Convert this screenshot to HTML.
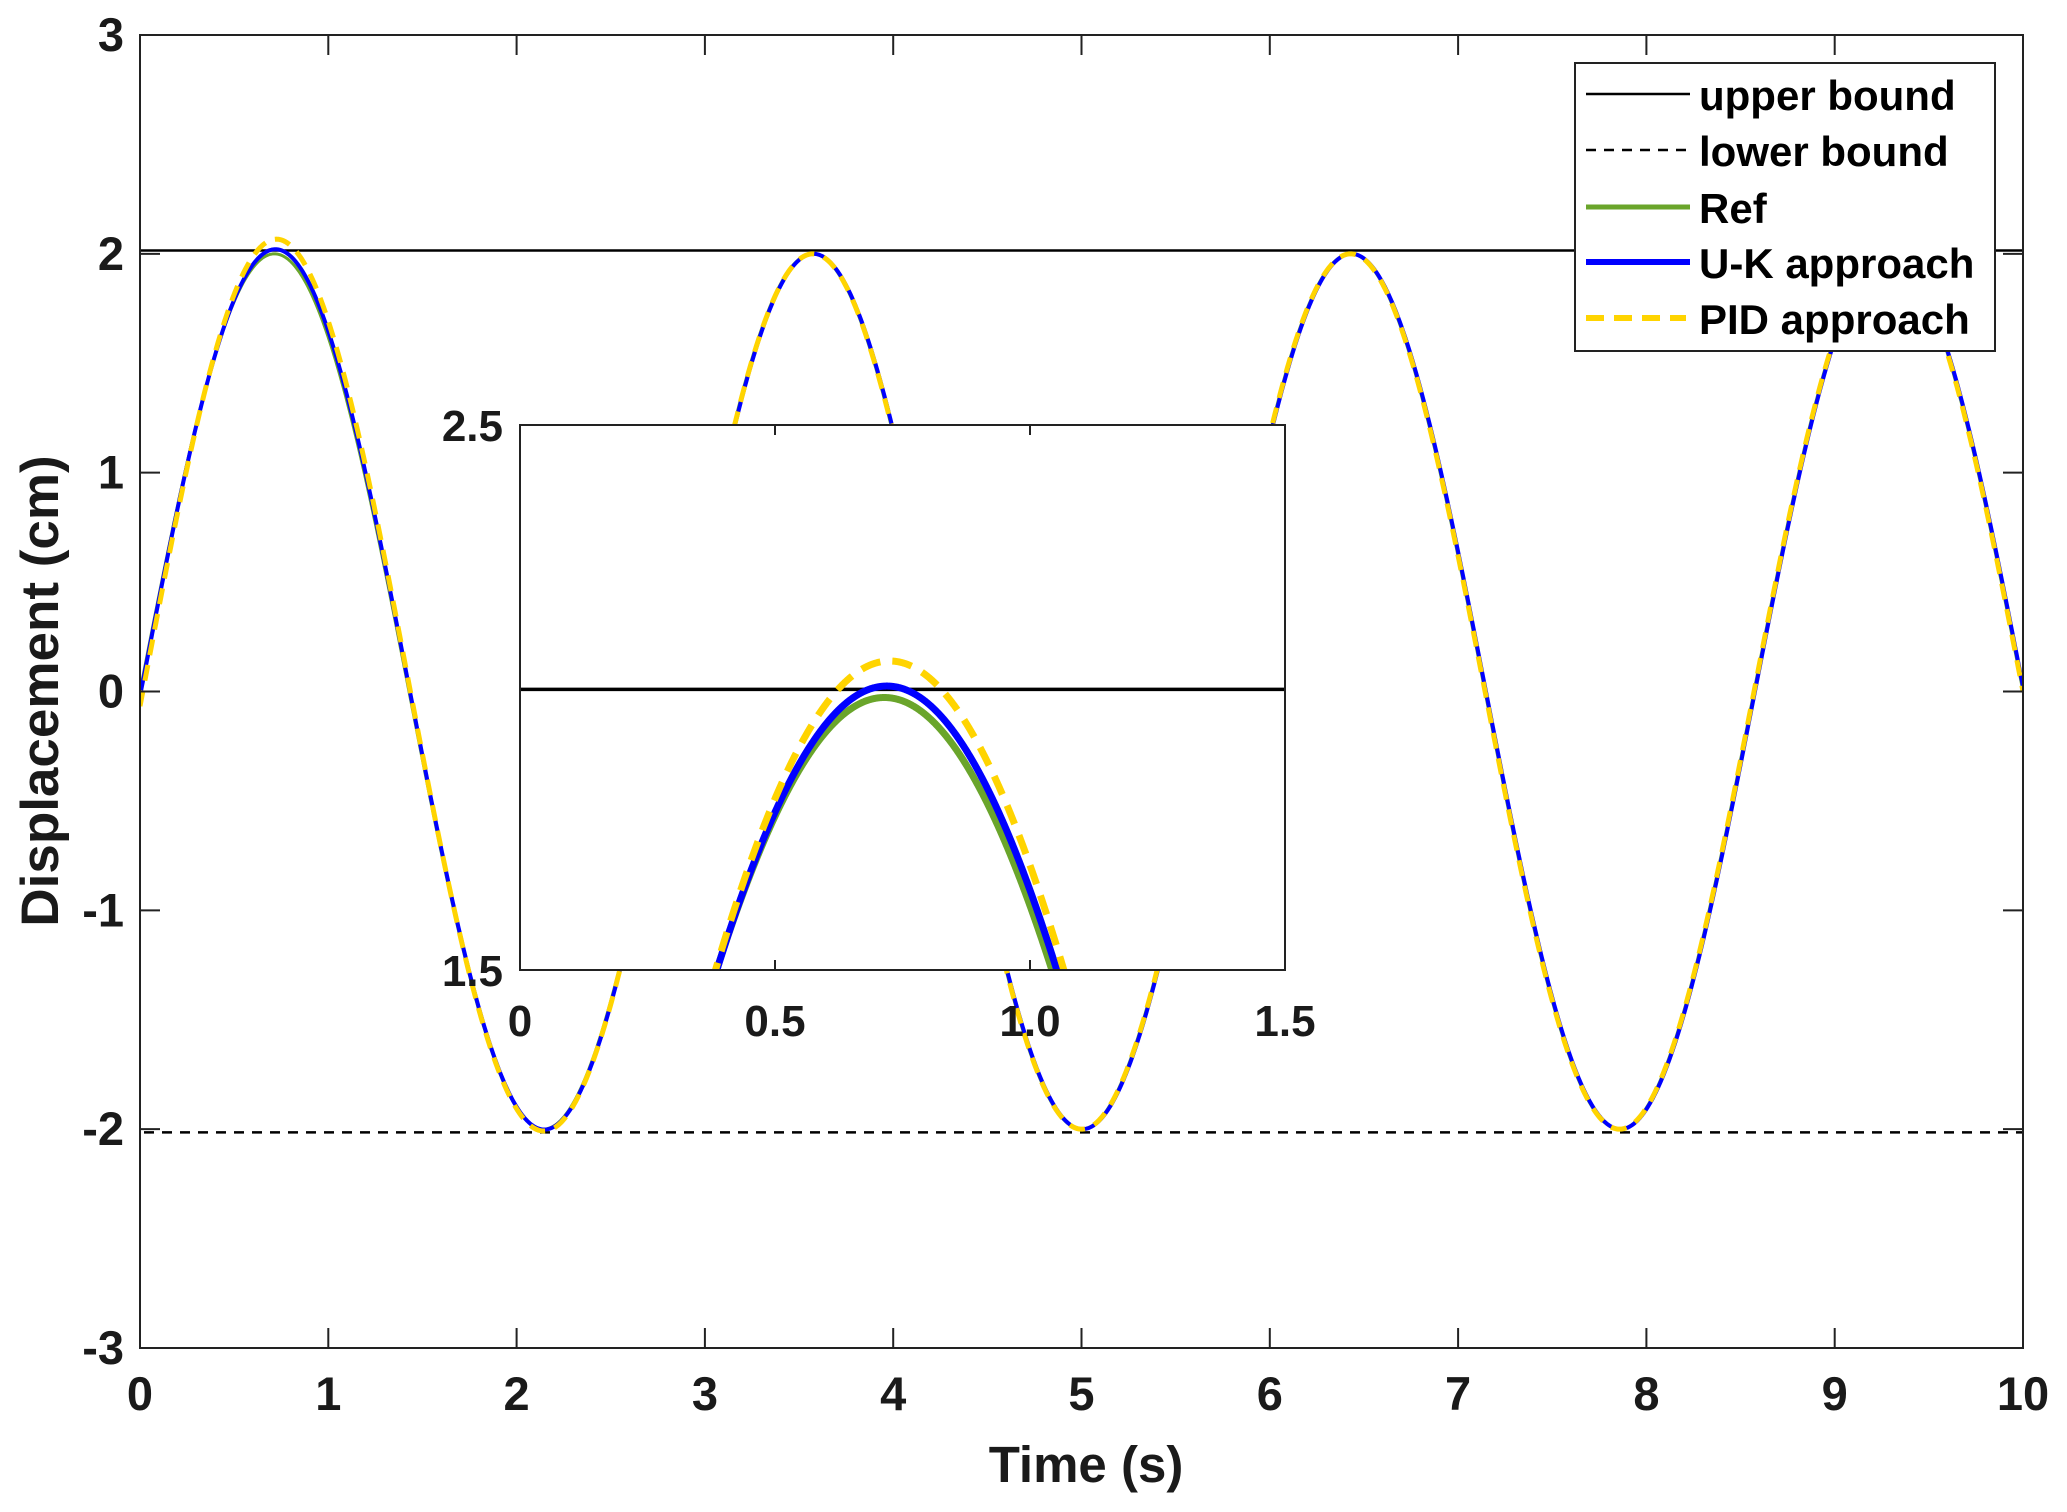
<!DOCTYPE html>
<html><head><meta charset="utf-8">
<style>
html,body{margin:0;padding:0;background:#fff;width:2067px;height:1512px;overflow:hidden;}
svg{display:block;font-family:"Liberation Sans",Arial,sans-serif;font-weight:bold;}
</style></head>
<body>
<svg id="s" width="2067" height="1512" viewBox="0 0 2067 1512" xmlns="http://www.w3.org/2000/svg">
<defs>
<clipPath id="cm"><rect x="140" y="35" width="1883" height="1313"/></clipPath>
<clipPath id="ci"><rect x="520" y="425" width="765" height="545"/></clipPath>
</defs>
<rect x="140" y="35" width="1883" height="1313" fill="#fff"/>
<g id="main" clip-path="url(#cm)"></g>
<rect x="140" y="35" width="1883" height="1313" fill="none" stroke="#222" stroke-width="2"/>
<g id="ticks" stroke="#222" stroke-width="2"></g>
<g font-size="47" fill="#1a1a1a" text-anchor="end" id="ylab"></g>
<g font-size="47" fill="#1a1a1a" text-anchor="middle" id="xlab"></g>
<text x="1086" y="1482" font-size="51" text-anchor="middle" fill="#1a1a1a">Time (s)</text>
<text transform="translate(58,691) rotate(-90)" font-size="53" text-anchor="middle" fill="#1a1a1a">Displacement (cm)</text>

<!-- inset -->
<rect x="520" y="425" width="765" height="545" fill="#fff" stroke="none"/>
<g id="inset" clip-path="url(#ci)"></g>
<rect x="520" y="425" width="765" height="545" fill="none" stroke="#222" stroke-width="2"/>
<g stroke="#222" stroke-width="2">
<line x1="775" y1="425" x2="775" y2="435"/><line x1="1030" y1="425" x2="1030" y2="435"/>
<line x1="775" y1="970" x2="775" y2="960"/><line x1="1030" y1="970" x2="1030" y2="960"/>
</g>
<g font-size="44" fill="#1a1a1a">
<text x="503" y="441" text-anchor="end">2.5</text>
<text x="503" y="986" text-anchor="end">1.5</text>
<text x="520" y="1036" text-anchor="middle">0</text>
<text x="775" y="1036" text-anchor="middle">0.5</text>
<text x="1030" y="1036" text-anchor="middle">1.0</text>
<text x="1285" y="1036" text-anchor="middle">1.5</text>
</g>

<!-- legend -->
<rect x="1575" y="63" width="420" height="288" fill="#fff" stroke="#222" stroke-width="2"/>
<line x1="1586" y1="94" x2="1690" y2="94" stroke="#000" stroke-width="2.5"/>
<line x1="1586" y1="150" x2="1690" y2="150" stroke="#000" stroke-width="2.5" stroke-dasharray="10,8"/>
<line x1="1586" y1="207" x2="1690" y2="207" stroke="#6aa52b" stroke-width="5"/>
<line x1="1586" y1="262" x2="1690" y2="262" stroke="#0000ff" stroke-width="6"/>
<line x1="1586" y1="318" x2="1686" y2="318" stroke="#ffd400" stroke-width="6" stroke-dasharray="18,10"/>
<g font-size="42" fill="#000">
<text x="1699" y="110">upper bound</text>
<text x="1699" y="166">lower bound</text>
<text x="1699" y="223">Ref</text>
<text x="1699" y="278">U-K approach</text>
<text x="1699" y="334">PID approach</text>
</g>
</svg>
<script>
var NS="http://www.w3.org/2000/svg";
function el(p,t,a){var e=document.createElementNS(NS,t);for(var k in a)e.setAttribute(k,a[k]);p.appendChild(e);return e;}
var T=20/7, w=2*Math.PI/T;
function ref(t){return 2*Math.sin(w*t);}
function uk(t){var d=0.021*Math.exp(-Math.pow((t-0.72)/0.9,2));return (2+d)*Math.sin(w*(t-0.005));}
function pid(t){var d=0.067*Math.exp(-Math.pow((t-0.72)/1.0,2));return (2+d)*Math.sin(w*(t-0.015*Math.exp(-t/2)));}
function path(f,X,Y,t0,t1){var s="";for(var i=0;i<=2000;i++){var t=t0+(t1-t0)*i/2000;var x=X(t),y=Y(f(t));s+=(i?"L":"M")+x.toFixed(2)+" "+y.toFixed(2);}return s;}
function draw(g,X,Y,t0,t1,big){
 var yu=Y(2.015), yl=Y(-2.015);
 el(g,"line",{x1:0,y1:yu,x2:2067,y2:yu,stroke:"#000","stroke-width":big?3.5:2.5});
 el(g,"line",{x1:0,y1:yl,x2:2067,y2:yl,stroke:"#000","stroke-width":2.5,"stroke-dasharray":"10,8"});
 el(g,"path",{d:path(ref,X,Y,t0,t1),fill:"none",stroke:"#6aa52b","stroke-width":big?7:3});
 el(g,"path",{d:path(uk,X,Y,t0,t1),fill:"none",stroke:"#0000ff","stroke-width":big?7:4});
 el(g,"path",{d:path(pid,X,Y,t0,t1),fill:"none",stroke:"#ffd400","stroke-width":big?7:5,"stroke-dasharray":big?"20,12":"16,10"});
}
draw(document.getElementById("main"),function(t){return 140+188.3*t;},function(v){return 35+(3-v)*218.83;},0,10,false);
draw(document.getElementById("inset"),function(t){return 520+t/1.5*765;},function(v){return 425+(2.5-v)*545;},0,1.5,true);
var tk=document.getElementById("ticks"),xl=document.getElementById("xlab"),yl=document.getElementById("ylab");
for(var i=0;i<=10;i++){var x=140+188.3*i;
 if(i>0&&i<10){el(tk,"line",{x1:x,y1:1348,x2:x,y2:1328});el(tk,"line",{x1:x,y1:35,x2:x,y2:55});}
 el(xl,"text",{x:x,y:1410}).textContent=i;}
for(var v=-3;v<=3;v++){var y=35+(3-v)*218.83;
 if(v>-3&&v<3){el(tk,"line",{x1:140,y1:y,x2:160,y2:y});el(tk,"line",{x1:2023,y1:y,x2:2003,y2:y});}
 el(yl,"text",{x:124,y:y+16}).textContent=v;}
</script>
</body></html>
